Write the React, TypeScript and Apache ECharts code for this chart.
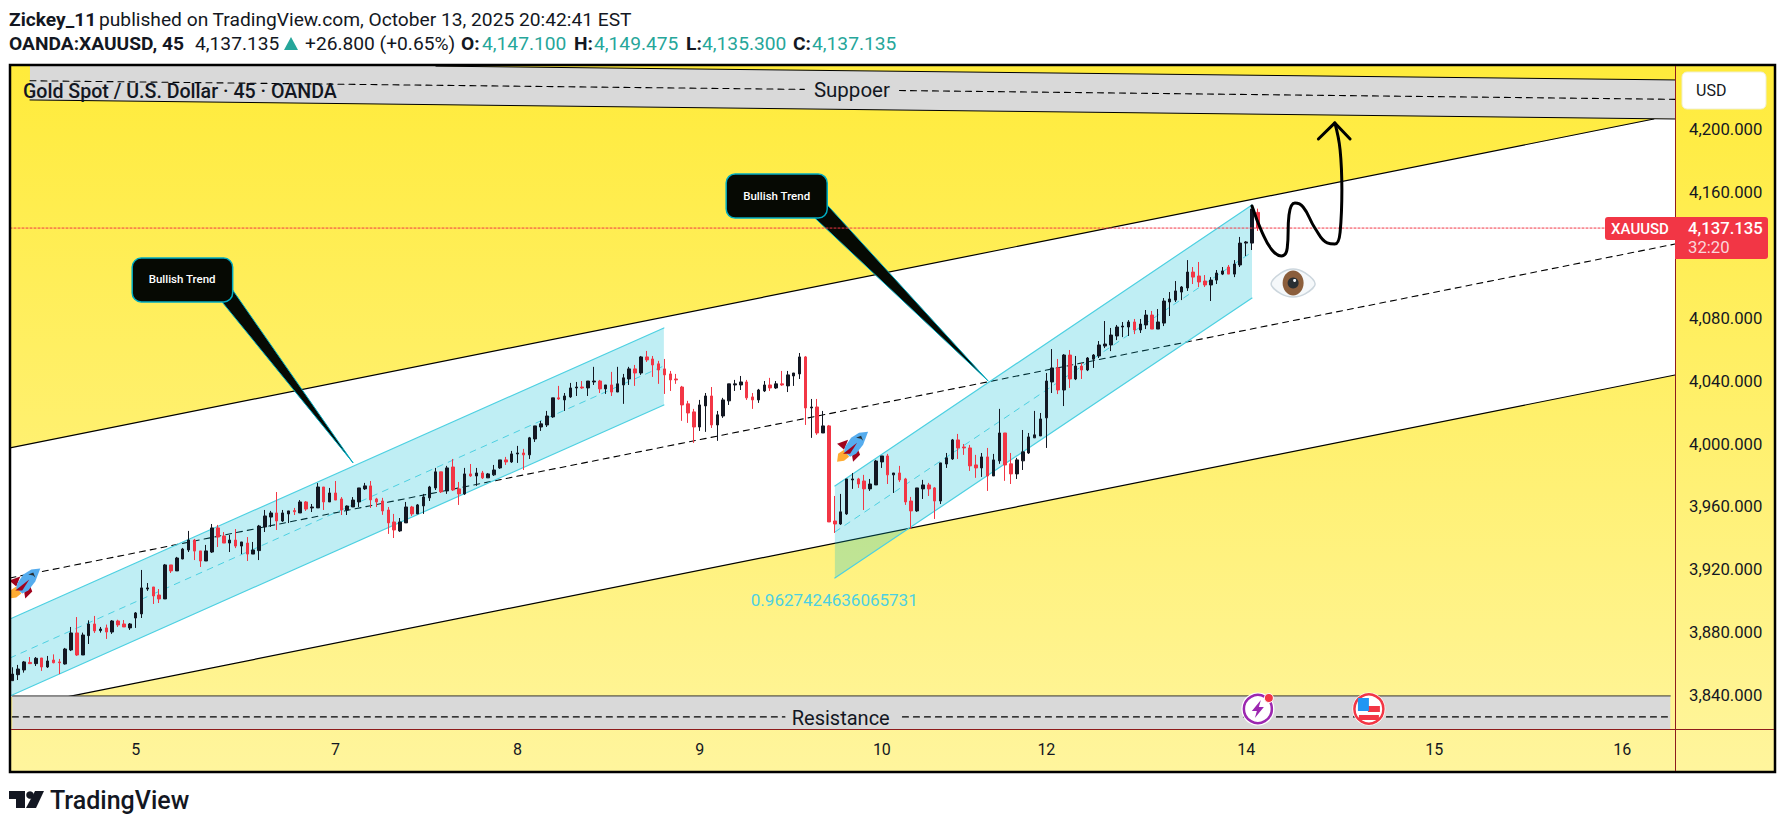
import { useEffect, useRef } from "react";
import * as echarts from "echarts";

// 45 minute bars
const opens = [
  3849.7,3853.5,3856.5,3861.3,3860.5,3864.1,3858.4,3862.8,3861.6,3860.3,
  3869.2,3880,3866,3878.3,3885.7,3881.5,3883.2,3880.6,3887.6,3885.7,
  3883.2,3889.5,3892.1,3907.9,3909.2,3904.1,3901.6,3923.2,3919.4,3927,
  3932.7,3939,3932.1,3925.7,3931.4,3946.7,3941.6,3937.1,3939,3935.2,
  3937.1,3930.1,3932.3,3947.3,3953.6,3956.2,3951.1,3955.6,3957.7,3956.2,
  3963.2,3959.4,3959.4,3972.7,3963.2,3968.9,3965.1,3958.1,3960,3963.2,
  3971.5,3973.4,3965.1,3963.8,3958.1,3950.5,3944.8,3949.9,3960,3955.6,
  3960.7,3965.8,3972.1,3982.3,3970.2,3985.4,3971.5,3968.3,3981,3979.7,
  3981.6,3978.5,3980.4,3984.8,3989.9,3988.6,3993.7,3994.3,3993.1,4003.2,
  4010.8,4012.1,4017.2,4029.3,4028,4029.9,4035.6,4036.2,4035.6,4039.4,
  4040,4035,4037.5,4033,4037.5,4041.3,4047.7,4045.1,4055.3,4054,
  4050.9,4047.7,4044.5,4041.3,4036.2,4025.5,4020.4,4010.8,4024.2,4030.5,
  4012.1,4017.8,4027.4,4037.5,4037.5,4039.4,4029.9,4028,4033.7,4037.5,
  4035.6,4038.2,4036.9,4043.2,4044.5,4055.3,4022.9,4023.5,4007,4011.5,
  3951.1,3949.2,3955.6,3977.2,3977.8,3976.5,3971.5,3974,3988.6,3992.4,
  3980.4,3981.6,3977.8,3963.8,3957.5,3971.5,3974,3972.1,3963.8,3987.3,
  3990.5,4002.6,3998.1,3997.5,3986.7,3984.8,3991.8,3979.7,3989.3,4007,
  3987.4,3981,3989.3,3994.3,4003.9,4005.1,4016.6,4039.4,4048.3,4034.3,
  4056.5,4041.3,4049.5,4047,4053.9,4055.9,4062.2,4062.9,4068.6,4074.3,
  4074.3,4077.5,4072.4,4075.6,4081.9,4073,4076.8,4090.2,4091.4,4096.5,
  4099.1,4109.2,4106.7,4103.5,4101,4104.1,4107.9,4112.4,4107.9,4113.7,
  4127.6,4127.6,4147.1,
];
const closes = [
  3853.9,3857.1,3861.6,3860.5,3863.9,3858.4,3862.2,3861.1,3861.1,3869.8,
  3880,3866,3878.7,3885.7,3881.3,3882.5,3880.6,3887.6,3885.1,3883.8,
  3885.7,3892.7,3908.6,3908.6,3903.5,3901.6,3923.2,3919.4,3927.6,3933.3,
  3939,3932,3925.7,3932.1,3946.7,3940.9,3937.1,3939,3935.2,3937.8,
  3930.1,3932.7,3947.9,3954.3,3956.2,3951.1,3956.2,3957.5,3957,3963.2,
  3958.7,3960,3972.7,3963.2,3968.9,3964.4,3958.1,3960.6,3964.4,3972.1,
  3973.4,3964.5,3963.2,3957.5,3949.9,3945.4,3950.5,3960,3955.6,3961.3,
  3966.4,3972.7,3982.3,3969.6,3984.8,3970.8,3968.3,3981,3979.7,3981.6,
  3978.5,3981,3983.5,3989.9,3988.6,3993.7,3994.3,3993.1,4003.9,4011.5,
  4012.8,4017.8,4029.3,4028.6,4030.5,4035.6,4036.2,4035.6,4040,4040,
  4035,4037.5,4033,4038.2,4042,4047.7,4045.1,4055.3,4053.4,4050.2,
  4047,4043.9,4040.7,4040.7,4024.8,4019.7,4010.8,4024.8,4030.5,4012.1,
  4018.5,4028,4038.2,4038.2,4039.4,4029.3,4028,4034.3,4037.5,4035.6,
  4038.2,4037.5,4043.9,4045.1,4055.3,4022.9,4023.5,4007,4011.5,3950.5,
  3949.2,3956.9,3977.8,3977.8,3974.6,3971.5,3974.6,3989.2,3992.4,3980.4,
  3981.6,3977.2,3963.2,3957.5,3972.1,3974,3971.5,3963.8,3988,3991.2,
  4002.6,3997.5,3997.5,3986.1,3984.8,3991.8,3979.7,3989.9,4007,3986.7,
  3981,3989.9,3995,4004.5,4005.8,4015.9,4040,4048.3,4034.3,4056.5,
  4041.3,4049.5,4047,4054.6,4056.5,4062.9,4063.5,4069.2,4074.3,4074.9,
  4077.5,4072.4,4076.2,4081.9,4073,4077.5,4090.8,4092.1,4097.2,4099.7,
  4109.2,4106,4102.9,4101,4104.1,4108.6,4109.9,4107.9,4114.3,4127.6,
  4128.3,4149.2,4137.135,
];
const lows = [
  3849.7,3850.1,3854.8,3860.5,3859,3855.9,3857.8,3860.7,3853.9,3859.9,
  3868.5,3865.4,3866,3873,3880,3880.2,3876.2,3879.4,3883.8,3883.8,
  3881.9,3883.2,3889.5,3906.7,3898.4,3899,3901.6,3918.1,3919.4,3926.8,
  3931.4,3926.3,3921.9,3925.7,3930.8,3934.6,3937.1,3931.4,3933.9,3930.1,
  3925.7,3930.1,3926.3,3944.1,3947.3,3945.4,3950.5,3949.8,3954.9,3956.2,
  3957.5,3956.8,3959.4,3958.1,3963.2,3964.4,3954.9,3954.9,3960,3960,
  3970.8,3959.4,3960,3955,3942.9,3940.3,3944.2,3949.9,3954.3,3955.6,
  3955.6,3963.8,3970.8,3968.9,3968.3,3970.2,3961.3,3967.7,3979.1,3973.4,
  3977.8,3978.5,3979.7,3984.2,3986.7,3988,3988,3983.5,3990.5,4001.3,
  4008.3,4010.8,4016.6,4028,4021,4029.3,4030.5,4035,4030.5,4037.5,
  4032.4,4031.8,4030.5,4033,4025.5,4037.5,4036.9,4043.9,4052.1,4042.6,
  4038.2,4031.8,4033.7,4038.2,4014.7,4013.4,4000.7,4008.3,4007.7,4010.2,
  4002,4016.6,4024.8,4033.7,4034.3,4028,4022.3,4026.1,4033,4033.7,
  4035,4036.9,4033,4036.9,4041.3,4012.1,4003.9,4005.8,4007,3950.5,
  3943.5,3948.6,3955,3971.5,3972.1,3958.1,3970.2,3974,3984.8,3974.6,
  3968.9,3975.9,3961.3,3946.1,3956.9,3965.1,3967,3952.4,3961.9,3984.8,
  3989.9,3990.5,3993.1,3982.9,3978.5,3979.1,3970.2,3979.7,3987.4,3976.6,
  3974.6,3977.8,3983.5,3993.7,4003.9,4005.1,3997.5,4032.4,4031.7,4024.1,
  4035.6,4040.6,4041.3,4046.3,4048.3,4054.6,4060.9,4059,4066,4067.9,
  4068.6,4069.8,4070.5,4073,4073,4073,4074.9,4081.3,4090.2,4091.4,
  4097.2,4101.6,4099.7,4099.7,4090.8,4101.6,4107.3,4107.9,4106,4112.4,
  4119.4,4123.2,4135.3,
];
const highs = [
  3858.2,3859.7,3862.2,3864.7,3864.7,3864.1,3865.4,3866.4,3863.5,3870.5,
  3883.8,3890.1,3880.2,3888,3890.8,3883.8,3885.3,3888.2,3888.4,3888.2,
  3886.3,3893.3,3920,3911.7,3909.2,3907.9,3923.8,3923.2,3928.3,3934,
  3944.8,3939.7,3932.1,3935.9,3949.2,3948.6,3944.1,3942.2,3946,3937.8,
  3940.9,3937.8,3948.6,3958.1,3957.5,3969.5,3958.1,3957.5,3959.4,3964.4,
  3963.8,3961.9,3975.2,3972.7,3972.1,3976.5,3966.3,3961,3966.3,3972.1,
  3975.3,3976.5,3965.8,3965.8,3960,3955.6,3953,3963.2,3960.7,3961.9,
  3968.3,3973.4,3984.8,3982.3,3986.1,3990.5,3975.9,3984.8,3987.3,3984.8,
  3982.9,3981.6,3986.7,3989.9,3991.8,3995.6,3998.8,3996.9,4004.5,4011.5,
  4014.7,4021,4029.3,4036.9,4032.4,4038.8,4039.4,4040,4040,4049,
  4040.7,4037.5,4045.8,4049,4044.5,4049,4050.2,4055.9,4059.1,4055.9,
  4052.8,4054,4046.4,4044.5,4036.9,4027.4,4022.3,4028,4032.4,4036.2,
  4021,4029.3,4038.2,4040.7,4043.2,4040.7,4032.4,4035,4040,4042,
  4040,4046.4,4046.4,4045.1,4057.8,4055.9,4028.6,4028.6,4021,4012.1,
  3967,3968.3,3977.8,3981.6,3978.5,3980.4,3977.8,3989.9,3992.4,3993.7,
  3981.6,3986.1,3978.5,3966.4,3972.1,3977.2,3975.3,3972.7,3988,3994.3,
  4003.2,4006.4,4000,3999.4,3993.1,3994.3,3997.5,3993.7,4022.3,4007,
  3994.3,3991.2,4008.9,4007,4021,4019.7,4045.1,4060.3,4054,4057.1,
  4059.7,4055.9,4051.4,4055.2,4057.1,4065.4,4078.1,4073.7,4075.6,4077.5,
  4078.7,4079.4,4079.4,4085.1,4084.5,4085.7,4092.7,4096.5,4103.5,4100.3,
  4116.8,4112.4,4115.6,4107.3,4106,4110.5,4112.4,4113.7,4116.8,4131.5,
  4128.9,4149.2,4149.475,
];

// 4,120 sits behind the last price box in the picture
const priceTicks = [3840, 3880, 3920, 3960, 4000, 4040, 4080, 4160, 4200];
const dayTicks = [21, 55, 86, 117, 148, 176, 210, 242, 274];
const dayNames = ["5", "7", "8", "9", "10", "12", "14", "15", "16"];
const lastPrice = 4137.135;

// drawings, as [bar index, price]
const trendTop = [[-0.4, 3997.5], [279.4, 4206.4]];
const trendBottom = [[9.3, 3839.4], [283, 4043.8]];
const trendMid = [[-0.4, 3914.9], [283, 4127]];
const whiteChannel = [[-0.4, 3997.5], [279.4, 4206.4], [283, 4206.4], [283, 4043.8], [9.3, 3839.4], [-0.4, 3839.4]];

const supportBand = [[3, 4240.7], [72.1, 4240], [283, 4231.2], [283, 4206.4], [3, 4218.5]];
const supportTop = [[72.1, 4240], [283, 4231.2]];
const supportBottom = [[3, 4218.5], [283, 4206.4]];
const supportMidA = [[3, 4230.7], [134.8, 4225.2]];
const supportMidB = [[151, 4224.5], [283, 4218.9]];

const resistanceBand = [[0, 3840], [282.2, 3840], [282.2, 3819], [0, 3819]];
const resistanceTop = [[0, 3840], [282.2, 3840]];
const resistanceMidA = [[0, 3826.7], [131.5, 3826.7]];
const resistanceMidB = [[151.5, 3826.7], [282.2, 3826.7]];

const channelOne = [[-0.4, 3888.9], [110.9, 4073.7], [110.9, 4024.8], [-0.4, 3840]];
const channelOneTop = [[-0.4, 3888.9], [110.9, 4073.7]];
const channelOneBottom = [[-0.4, 3840], [110.9, 4024.8]];
const channelOneMid = [[-0.4, 3864.1], [110.9, 4049.6]];
const channelTwo = [[140, 3973.4], [211, 4151.8], [211, 4092.7], [140, 3914.9]];
const channelTwoTop = [[140, 3973.4], [211, 4151.8]];
const channelTwoBottom = [[140, 3914.9], [211, 4092.7]];
const channelTwoMid = [[140, 3944.1], [211, 4121.9]];

const calloutOneBox = [[20.4, 4118.1], [37.5, 4090.2]];
const calloutOneTail = [[37.5, 4097.8], [58, 3988], [35.7, 4090.2]];
const calloutTwoBox = [[121.5, 4171.5], [138.7, 4143.5]];
const calloutTwoTail = [[138.7, 4151.8], [166.1, 4040], [136.6, 4143.5]];

const waveLine = [
  [211, 4151.2], [212.7, 4134.6], [214.4, 4123.2], [216, 4119.4], [217, 4124.5],
  [217.3, 4145.4], [218.3, 4153], [219.7, 4150.5], [221.7, 4137.2], [223.8, 4127.7],
  [225.1, 4127], [226, 4134.6], [226.3, 4161.3], [226, 4186.7], [225.1, 4203.9],
];
const arrowHead = [[222.3, 4193.7], [225.1, 4203.9], [227.7, 4193.7]];

const chartTexts = [
  { text: "Suppoer", at: [142.9, 4225], size: 20.5, color: "#131722", weight: 400 },
  { text: "Resistance", at: [141, 3825.8], size: 20, color: "#131722", weight: 400 },
  { text: "Bullish Trend", at: [28.9, 4104.8], size: 11.5, color: "#ffffff", weight: 500 },
  { text: "Bullish Trend", at: [130.1, 4157.5], size: 11.5, color: "#ffffff", weight: 500 },
  { text: "0.9627424636065731", at: [139.9, 3901], size: 17, color: "#4DD0E1", weight: 400 },
];

const rocketSpots = [[2.2, 3911.4], [143.1, 3998.3]];
const eyeSpot = [[218, 4102.3]];
const boltSpot = [[212, 3831.7]];
const flagSpot = [[230.9, 3831.7]];
const lastLabelSpot = [[283, lastPrice]];

const FONT = "Roboto, 'Liberation Sans', sans-serif";
const BLACK = "#131722";
const RED = "#F23645";
const TEAL = "#26A69A";

function polySeries(name: string, pts: number[][], fill: any, z: number, stroke?: string, strokeWidth = 0) {
  return {
    name,
    type: "custom",
    silent: true,
    z,
    data: pts,
    encode: { x: 0, y: 1 },
    renderItem: (params: any, api: any) => {
      if (params.dataIndex !== 0) return null;
      return {
        type: "polygon",
        shape: { points: pts.map((p) => api.coord(p)) },
        style: { fill, stroke, lineWidth: strokeWidth },
      };
    },
  };
}

function lineSeries(name: string, pts: number[][], color: string, width: number, lineType: any, z: number, smooth: any = false) {
  return {
    name,
    type: "line",
    silent: true,
    z,
    data: pts,
    symbol: "none",
    smooth,
    lineStyle: { color, width, type: lineType, cap: "round", join: "round" },
  };
}

function boxSeries(name: string, corners: number[][], z: number) {
  return {
    name,
    type: "custom",
    silent: true,
    z,
    data: corners,
    encode: { x: 0, y: 1 },
    renderItem: (params: any, api: any) => {
      if (params.dataIndex !== 0) return null;
      const a = api.coord(corners[0]);
      const b = api.coord(corners[1]);
      return {
        type: "rect",
        shape: { x: a[0], y: a[1], width: b[0] - a[0], height: b[1] - a[1], r: 9 },
        style: { fill: "#060903", stroke: "#00ACC1", lineWidth: 1.5 },
      };
    },
  };
}

// small icons are drawn around one [bar, price] point
function iconSeries(name: string, spots: number[][], children: any[], z: number) {
  return {
    name,
    type: "custom",
    silent: true,
    z,
    data: spots,
    encode: { x: 0, y: 1 },
    renderItem: (_params: any, api: any) => {
      const p = api.coord([api.value(0), api.value(1)]);
      return { type: "group", x: p[0], y: p[1], children };
    },
  };
}

const poly = (points: number[][], fill: string) => ({ type: "polygon", shape: { points }, style: { fill } });
const dot = (cx: number, cy: number, r: number, fill: string, stroke?: string, lineWidth = 0) => ({
  type: "circle",
  shape: { cx, cy, r },
  style: { fill, stroke, lineWidth },
});

const rocketParts = [
  poly([[-16, 15], [-15, 7], [-9, 3], [-4, 10], [-9, 14]], "#FFAC33"),
  poly([[-16, -3], [-5, -7], [-9, 3]], "#A0041E"),
  poly([[-1, 9], [5, 3], [7, 8], [0, 15]], "#A0041E"),
  poly([[15, -15], [6, -14], [-2, -9], [-8, 0], [-9, 5], [-3, 10], [3, 7], [10, -2]], "#55ACEE"),
  poly([[-10, 7], [4, -4], [-3, 7]], "#A0041E"),
  poly([[3, -9], [8, -11], [10, -6], [8, -8]], "#292F33"),
];

const eyeParts = [
  {
    type: "polygon",
    shape: { points: [[-22, 1], [-12, -10], [0, -14], [12, -10], [22, 1], [12, 11], [0, 14], [-12, 11]], smooth: 0.3 },
    style: { fill: "#F5F8FA", stroke: "#CCD6DD", lineWidth: 1.5 },
  },
  { type: "ellipse", shape: { cx: 0, cy: 0, rx: 10.5, ry: 12.5 }, style: { fill: "#8B5E3C" } },
  dot(0, 0, 5.5, "#292F33"),
  dot(1.5, -2.5, 1.5, "#F5F8FA"),
];

const boltParts = [
  dot(0, 0, 16.5, "#ffffff"),
  dot(0, 0, 14, "#ffffff", "#9C27B0", 2.5),
  poly([[3, -9], [-6, 2], [-1, 2], [-3, 9], [6, -2], [1, -2]], "#9C27B0"),
  dot(11, -11, 4.5, "#F23645", "#ffffff", 1),
];

const flagParts = [
  dot(0, 0, 16.5, "#ffffff"),
  dot(0, 0, 14.5, "#ffffff", "#F23645", 2.5),
  { type: "rect", shape: { x: -1, y: -3, width: 12, height: 6 }, style: { fill: "#F23645" } },
  { type: "rect", shape: { x: -10, y: 6, width: 20, height: 5 }, style: { fill: "#F23645" } },
  { type: "rect", shape: { x: -11, y: -11, width: 11, height: 13 }, style: { fill: "#2196F3" } },
];

const lastPriceParts = [
  { type: "rect", shape: { x: -70, y: -11, width: 70, height: 23, r: [3, 0, 0, 3] }, style: { fill: RED } },
  { type: "rect", shape: { x: 0, y: -11, width: 93, height: 42, r: [0, 3, 3, 0] }, style: { fill: RED } },
  { type: "text", style: { text: "XAUUSD", x: -35, y: 0.5, fill: "#fff", font: `500 15px ${FONT}`, align: "center", verticalAlign: "middle" } },
  { type: "text", style: { text: "4,137.135", x: 13, y: 0.5, fill: "#fff", font: `500 16.7px ${FONT}`, align: "left", verticalAlign: "middle" } },
  { type: "text", style: { text: "32:20", x: 13, y: 19, fill: "#FBD5DA", font: `400 16.7px ${FONT}`, align: "left", verticalAlign: "middle" } },
];

function headerText(text: string, x: number, y: number, color: string, weight = 400) {
  return {
    type: "text",
    z: 100,
    style: { text, x, y, fill: color, font: `${weight} 19.2px ${FONT}`, verticalAlign: "middle" },
  };
}

export default function App() {
  const chartRef = useRef<HTMLDivElement>(null);

  useEffect(() => {
    if (!chartRef.current) return;
    document.body.style.margin = "0";
    const chart = echarts.init(chartRef.current, undefined, { renderer: "svg" });

    const candles = opens.map((o, i) => [i, o, closes[i], lows[i], highs[i]]);

    const option = {
      animation: false,
      backgroundColor: "#ffffff",
      grid: { left: 10, right: 110, top: 65, bottom: 98 },
      xAxis: {
        type: "value",
        min: -0.4,
        max: 283,
        z: 3,
        axisLine: { show: false },
        axisTick: { show: false },
        splitLine: { show: false },
        axisLabel: {
          customValues: dayTicks,
          margin: 12,
          color: BLACK,
          fontFamily: FONT,
          fontSize: 16,
          formatter: (v: number) => dayNames[dayTicks.indexOf(v)] ?? "",
        },
      },
      yAxis: {
        type: "value",
        position: "right",
        min: 3819,
        max: 4240.7,
        z: 3,
        axisLine: { show: false },
        axisTick: { show: false },
        splitLine: { show: false },
        axisLabel: {
          customValues: priceTicks,
          margin: 14,
          color: BLACK,
          fontFamily: FONT,
          fontSize: 16.7,
          formatter: (v: number) => v.toLocaleString("en-US", { minimumFractionDigits: 3 }),
        },
      },
      graphic: [
        {
          type: "rect",
          z: 0,
          shape: { x: 10, y: 65, width: 1765, height: 707 },
          style: {
            fill: new echarts.graphic.LinearGradient(0, 0, 0, 1, [
              { offset: 0, color: "#FFEB3B" },
              { offset: 1, color: "#FFF59D" },
            ]),
          },
        },
        { type: "rect", z: 90, shape: { x: 10, y: 65, width: 1765, height: 707 }, style: { fill: "none", stroke: "#000", lineWidth: 2.5 } },
        { type: "line", z: 90, shape: { x1: 1675.5, y1: 66, x2: 1675.5, y2: 771 }, style: { stroke: "#8E1C1C", lineWidth: 1 } },
        { type: "line", z: 90, shape: { x1: 11, y1: 729.5, x2: 1774, y2: 729.5 }, style: { stroke: "#8E1C1C", lineWidth: 1 } },
        {
          type: "rect",
          z: 95,
          shape: { x: 1682, y: 72, width: 84, height: 37, r: 5 },
          style: { fill: "#ffffff", stroke: "#F0EFD0", lineWidth: 1 },
        },
        { type: "text", z: 96, style: { text: "USD", x: 1696, y: 90.5, fill: BLACK, font: `400 16px ${FONT}`, verticalAlign: "middle" } },

        { type: "text", z: 96, style: { text: "Gold Spot / U.S. Dollar · 45 · OANDA", x: 23, y: 91, fill: BLACK, font: `500 19.6px ${FONT}`, verticalAlign: "middle" } },

        headerText("Zickey_11", 9, 19, BLACK, 700),
        headerText("published on TradingView.com, October 13, 2025 20:42:41 EST", 99, 19, BLACK),
        headerText("OANDA:XAUUSD, 45", 9, 43, BLACK, 700),
        headerText("4,137.135", 195, 43, BLACK),
        { type: "polygon", z: 100, shape: { points: [[291, 37], [298, 50], [284, 50]] }, style: { fill: TEAL } },
        headerText("+26.800 (+0.65%)", 305, 43, BLACK),
        headerText("O:", 461, 43, BLACK, 700),
        headerText("4,147.100", 482, 43, TEAL),
        headerText("H:", 574, 43, BLACK, 700),
        headerText("4,149.475", 594, 43, TEAL),
        headerText("L:", 686, 43, BLACK, 700),
        headerText("4,135.300", 702, 43, TEAL),
        headerText("C:", 793, 43, BLACK, 700),
        headerText("4,137.135", 812, 43, TEAL),

        { type: "polygon", z: 100, shape: { points: [[9, 791], [25, 791], [25, 808], [16, 808], [16, 799], [9, 799]] }, style: { fill: BLACK } },
        { type: "circle", z: 100, shape: { cx: 30, cy: 795, r: 3.8 }, style: { fill: BLACK } },
        { type: "polygon", z: 100, shape: { points: [[35, 791], [44, 791], [36, 808], [26, 808]] }, style: { fill: BLACK } },
        { type: "text", z: 100, style: { text: "TradingView", x: 50, y: 800, fill: BLACK, font: `500 25px ${FONT}`, verticalAlign: "middle" } },
      ],
      series: [
        polySeries("white channel", whiteChannel, "#ffffff", 2),
        lineSeries("trend top", trendTop, "#000000", 1.2, "solid", 3),
        lineSeries("trend bottom", trendBottom, "#000000", 1.2, "solid", 3),
        lineSeries("trend mid", trendMid, "#000000", 1.1, [6, 5], 3),

        polySeries("support band", supportBand, "#D9D9D9", 4),
        lineSeries("support top", supportTop, "#000000", 1, "solid", 4),
        lineSeries("support bottom", supportBottom, "#000000", 1, "solid", 4),
        lineSeries("support mid a", supportMidA, "#000000", 1.1, [6, 5], 4),
        lineSeries("support mid b", supportMidB, "#000000", 1.1, [6, 5], 4),
        polySeries("resistance band", resistanceBand, "#D9D9D9", 4),
        lineSeries("resistance top", resistanceTop, "#333333", 1, "solid", 4),
        lineSeries("resistance mid a", resistanceMidA, "#000000", 1.1, [6, 5], 4),
        lineSeries("resistance mid b", resistanceMidB, "#000000", 1.1, [6, 5], 4),

        polySeries("channel one", channelOne, "rgba(0,188,212,0.25)", 5),
        lineSeries("channel one top", channelOneTop, "#4DD0E1", 1.2, "solid", 5),
        lineSeries("channel one bottom", channelOneBottom, "#4DD0E1", 1.2, "solid", 5),
        lineSeries("channel one mid", channelOneMid, "#4DD0E1", 1, [6, 6], 5),
        polySeries("channel two", channelTwo, "rgba(0,188,212,0.25)", 5),
        lineSeries("channel two top", channelTwoTop, "#4DD0E1", 1.2, "solid", 5),
        lineSeries("channel two bottom", channelTwoBottom, "#4DD0E1", 1.2, "solid", 5),
        lineSeries("channel two mid", channelTwoMid, "#4DD0E1", 1, [6, 6], 5),

        {
          name: "XAUUSD",
          type: "candlestick",
          z: 6,
          barWidth: 3,
          encode: { x: 0, y: [1, 2, 3, 4] },
          data: candles,
          itemStyle: { color: BLACK, color0: RED, borderColor: BLACK, borderColor0: RED, borderWidth: 1 },
        },

        polySeries("callout one tail", calloutOneTail, "#060903", 7, "#00ACC1", 1),
        boxSeries("callout one", calloutOneBox, 7),
        polySeries("callout two tail", calloutTwoTail, "#060903", 7, "#00ACC1", 1),
        boxSeries("callout two", calloutTwoBox, 7),

        lineSeries("last price", [[-0.4, lastPrice], [283, lastPrice]], RED, 1, [2, 2], 7),
        lineSeries("forecast", waveLine, "#000000", 3, "solid", 8, 0.45),
        lineSeries("forecast head", arrowHead, "#000000", 3, "solid", 8),

        iconSeries("rockets", rocketSpots, rocketParts, 8),
        iconSeries("eye", eyeSpot, eyeParts, 8),
        iconSeries("bolt", boltSpot, boltParts, 8),
        iconSeries("flag", flagSpot, flagParts, 8),

        {
          name: "texts",
          type: "custom",
          silent: true,
          z: 9,
          data: chartTexts.map((t) => t.at),
          encode: { x: 0, y: 1 },
          renderItem: (params: any, api: any) => {
            const t = chartTexts[params.dataIndex];
            const p = api.coord(t.at);
            return {
              type: "text",
              style: {
                text: t.text,
                x: p[0],
                y: p[1],
                fill: t.color,
                font: `${t.weight} ${t.size}px ${FONT}`,
                align: "center",
                verticalAlign: "middle",
              },
            };
          },
        },

        iconSeries("last price label", lastLabelSpot, lastPriceParts, 92),
      ],
    };

    chart.setOption(option as any);
    return () => chart.dispose();
  }, []);

  return <div ref={chartRef} style={{ position: "absolute", left: 0, top: 0, width: 1785, height: 827 }} />;
}
